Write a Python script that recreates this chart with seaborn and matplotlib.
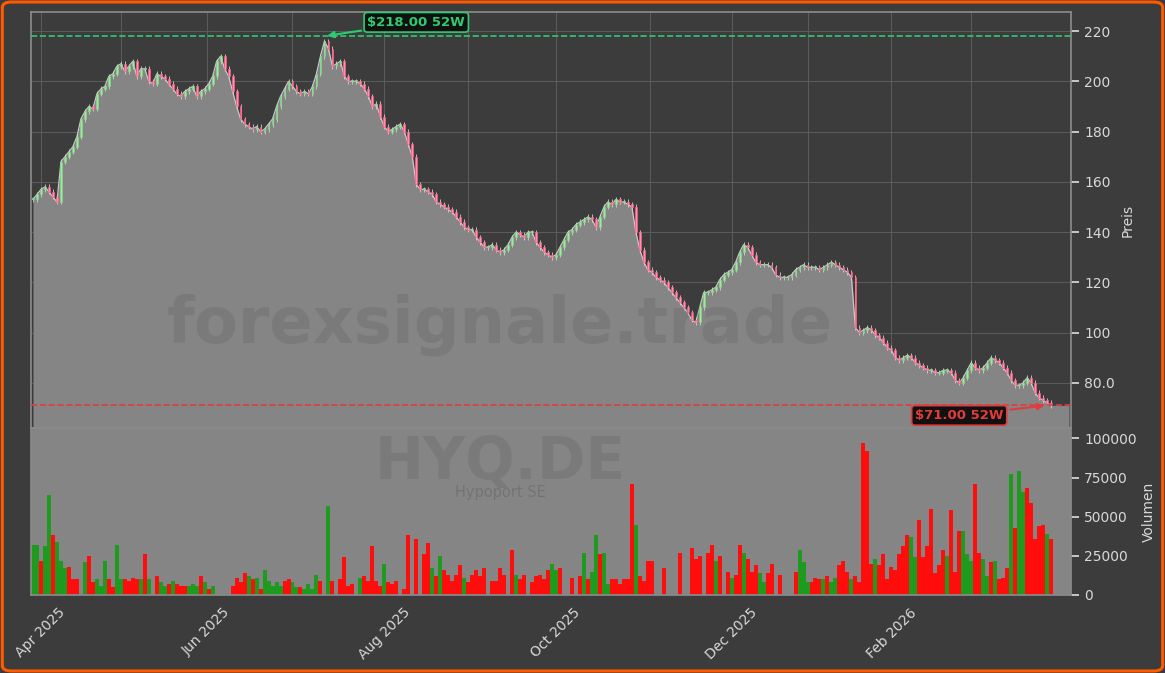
import numpy as np
import pandas as pd
import matplotlib
matplotlib.use("Agg")
import matplotlib.pyplot as plt
import seaborn as sns
from matplotlib.patches import FancyBboxPatch

# === DATOS ===
schluss = [153,
    155,157,158,156,154, 152,168,170,172,174, 178,185,188,190,189, 195,197,198,202,203,
    206,207,204,206,208, 202,205,205,200,199, 203,202,201,199,197, 195,194,196,197,198,
    194,196,197,199,202, 208,210,205,202,196, 190,185,183,182,181, 182,180,181,183,185,
    190,194,197,200,198, 196,195,196,195,198, 203,210,216,213,206, 207,208,202,200,200,
    200,199,197,194,190, 191,186,182,180,181, 182,183,180,175,170, 159,157,157,156,155,
    152,151,150,149,148, 146,144,142,141,141, 138,136,134,134,135, 133,132,133,135,138,
    140,139,138,140,140, 136,134,132,131,130, 131,134,137,140,141, 143,144,145,146,145,
    142,146,150,152,151, 153,152,152,151,150, 140,133,128,125,124, 122,121,120,118,116,
    114,112,110,108,105, 104,110,116,116,117, 118,121,123,124,125, 128,132,135,134,131,
    128,127,127,127,126, 123,122,122,122,123, 125,126,127,126,126, 126,125,126,127,128,
    127,126,125,124,122, 102,100,101,102,101, 99,98,96,94,93, 90,89,90,91,90,
    88,87,86,85,85, 84,84,85,85,84, 81,80,82,85,88, 86,85,86,88,90,
    89,88,86,84,81, 79,79,80,82,80, 76,74,73,72,71]

volumen_k = [32,32,22,31,64,38,34,22,17,18, 10,10,0,21,25,8,10,6,22,10,
    5,32,10,10,9,11,10,10,26,10, 0,12,8,6,7,9,7,6,6,6, 7,6,12,8,4,6,0,0,0,0,
    6,11,8,14,12,10,11,4,16,9, 6,8,6,9,10,8,5,5,4,7, 4,13,9,0,57,9,0,10,24,6,
    7,0,11,12,9,31,9,6,20,8, 7,9,0,4,38,0,36,0,26,33, 17,12,25,16,13,9,13,19,11,8,
    13,16,12,17,0,9,9,17,13,0, 29,13,10,13,0,8,12,13,10,16,
    20,16,17,0,0,11,0,12,27,10,15, 38,26,27,7,10,10,7,10,10,71,
    45,12,9,22,22,0,0,17,0,0,0, 27,0,0,30,23,25,0,27,32,22,25,
    0,15,11,13,32,27,23,15,19,14, 8,14,20,0,13,0,0,0,15,29,21,
    8,8,11,10,10,12,8,11,19,22, 15,10,12,8,97,92,20,23,19,26,
    10,18,16,26,31,38,37,24,48,24, 31,55,14,19,29,25,54,15,41,41,
    26,22,71,27,23,12,21,22,10,11, 17,77,43,79,66,68,59,36,44,45, 39,36]

volumen_richtung = ("ggrggrgggr" "rr-grrgggr" "rggrrrrgrg" "-rggrgrrrg" "ggrgrg----"
    "rrrrgrgrgg" "gggrrggrgg" "gg-rg-rrrr" "-rgrrrrrgr" "rr-rr-r-rr"
    "grgrrrrrgr" "rrrr-rrrr-" "rgr-rrrrr"
    "rgg--r-grgr" "ggrggrrrrr" "rgrrr--r---" "r--rrr-rrrg"
    "-grgrrgrrr" "ggr-g---rrg" "ggrrrgrggr" "rrgrrrrrgr"
    "rrrrrrrgg" "rrrrrrrgrrr" "gggrrggrgr" "rrgrggrrrr" "rg")

hoch_52w = 218.0
tief_52w = 71.0
preis_ticks = [80, 100, 120, 140, 160, 180, 200, 220]
preis_labels = ["80.0", "100", "120", "140", "160", "180", "200", "220"]
vol_ticks = [0, 25000, 50000, 75000, 100000]
monat_pos = [2, 22, 43.5, 65, 88, 109, 131, 154.5, 175, 194, 215, 235]
monat_labels = ["Apr 2025", "", "Jun 2025", "", "Aug 2025", "", "Oct 2025", "",
                "Dec 2025", "", "Feb 2026", ""]

close = np.array(schluss, dtype=float)
n = len(close)
open_ = np.r_[close[0], close[:-1]]
vol = np.array(volumen_k[:n] + [0] * max(0, n - len(volumen_k)), dtype=float) * 1000
richt = (volumen_richtung + "-" * n)[:n]
x = np.arange(n)
df = pd.DataFrame({"x": x, "close": close, "open": open_, "vol": vol})

# === STIL ===
sns.set_theme(style="dark")
plt.rcParams["font.family"] = ["DejaVu Sans"]
BG = "#3c3c3c"
FILL = "#858585"
TXT = "#d8d8d8"

fig = plt.figure(figsize=(11.65, 6.73), dpi=100, facecolor=BG)
ax = fig.add_axes([31 / 1165, 1 - 428 / 673, 1040 / 1165, 416 / 673])
axv = fig.add_axes([31 / 1165, 1 - 595 / 673, 1040 / 1165, 167 / 673], sharex=ax)

for a in (ax, axv):
    a.set_facecolor(BG)
    for s in a.spines.values():
        s.set_color("#8a8a8a")
    a.tick_params(colors=TXT, labelsize=10)
    a.yaxis.tick_right()
    a.yaxis.set_label_position("right")
axv.set_facecolor(FILL)

# Fläche + Linie
xf = np.r_[x, x[-1] + 4.5]
yf = np.r_[close, close[-1]]
ax.fill_between(xf, 62, yf, color=FILL, zorder=1, lw=0)
sns.lineplot(data=df, x="x", y="close", ax=ax, color="#c8c8c8", lw=0.9, zorder=2)

# Kerzen
up = close >= open_
for i in range(n):
    o, c = open_[i], close[i]
    farbe = "#a6e3a6" if up[i] else "#ff8fab"
    kante = "#7fd67f" if up[i] else "#ff5c86"
    lo, hi = min(o, c), max(o, c)
    ax.vlines(i, lo - 1.0, hi + 1.0, color="#d0d0d0", lw=0.6, zorder=3)
    ax.bar(i, max(hi - lo, 0.4), bottom=lo, width=0.45, color=farbe,
           edgecolor=kante, lw=0.5, zorder=4)

ax.grid(True, color="#5a5a5a", lw=0.8)
ax.set_axisbelow(True)
ax.set_ylim(62, 227.6)
ax.set_yticks(preis_ticks)
ax.set_yticklabels(preis_labels)
ax.set_ylabel("Preis", color=TXT, fontsize=10)
ax.set_xlabel("")

# 52W Linien
ax.axhline(hoch_52w, color="#2ecc71", ls="--", lw=1.2, zorder=5)
ax.axhline(tief_52w, color="#e03c3c", ls="--", lw=1.2, zorder=5)
i_hoch = int(np.argmax(close))
ax.annotate(f"${hoch_52w:.2f} 52W", xy=(i_hoch, hoch_52w), xytext=(i_hoch + 23, 223.5),
            color="#2ecc71", fontsize=9.5, fontweight="bold", ha="center", va="center",
            bbox=dict(boxstyle="round,pad=0.25", fc="#111111", ec="#2ecc71", lw=1.2),
            arrowprops=dict(arrowstyle="-|>", color="#2ecc71", lw=1.5), zorder=6)
ax.annotate(f"${tief_52w:.2f} 52W", xy=(n - 2, tief_52w), xytext=(n - 24, 67),
            color="#e03c3c", fontsize=9.5, fontweight="bold", ha="center", va="center",
            bbox=dict(boxstyle="round,pad=0.25", fc="#111111", ec="#e03c3c", lw=1.2),
            arrowprops=dict(arrowstyle="-|>", color="#e03c3c", lw=1.5), zorder=6)

# Volumen
farben = ["#1e9a1e" if r == "g" else "#ff0d0d" for r in richt]
axv.bar(x, vol, width=1.0, color=farben, lw=0)
axv.set_ylim(0, 106600)
axv.set_yticks(vol_ticks)
axv.set_yticklabels([str(v) for v in vol_ticks])
axv.set_ylabel("Volumen", color=TXT, fontsize=10)
axv.grid(False)
axv.set_xlim(-0.5, 260)
axv.set_xticks(monat_pos)
axv.set_xticklabels(monat_labels, rotation=45, ha="center", color=TXT, fontsize=10)
axv.tick_params(axis="x", colors=TXT, length=4)
plt.setp(ax.get_xticklabels(), visible=False)
ax.tick_params(axis="x", length=0)
ax.set_xticks(monat_pos)

# Wasserzeichen
fig.text(500 / 1165, 1 - 325 / 673, "forexsignale.trade", fontsize=46, fontweight="bold",
         color="#404040", alpha=0.15, ha="center", va="center", zorder=10)
fig.text(500 / 1165, 1 - 462 / 673, "HYQ.DE", fontsize=42, fontweight="bold",
         color="#404040", alpha=0.15, ha="center", va="center", zorder=10)
fig.text(500 / 1165, 1 - 492 / 673, "Hypoport SE", fontsize=10.5,
         color="#404040", alpha=0.25, ha="center", va="center", zorder=10)

# Rahmen
fig.patches.append(FancyBboxPatch((0.002, 0.003), 0.996, 0.994, boxstyle="round,pad=0,rounding_size=0.008",
                                  transform=fig.transFigure, fill=False, ec="#ff5a00", lw=2.2))

fig.savefig("out.png", dpi=100, facecolor=BG)
